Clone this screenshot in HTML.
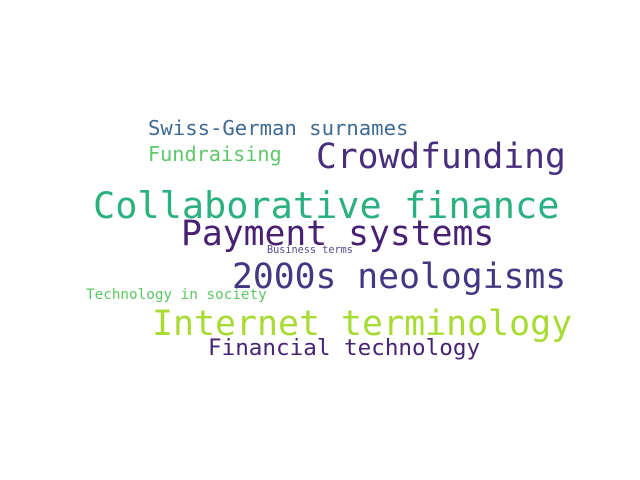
<!DOCTYPE html>
<html><head><meta charset="utf-8"><style>
html,body{margin:0;padding:0;background:#fff;width:640px;height:480px;overflow:hidden}
text{font-family:"DejaVu Sans Mono","Liberation Mono",monospace}
</style></head><body>
<svg width="640" height="480">
<text x="148" y="135" font-size="20.6" fill="#3e6a94">Swiss-German surnames</text>
<text x="148" y="161" font-size="20.2" fill="#5ec86a">Fundraising</text>
<text x="316" y="168" font-size="34.6" fill="#472f7d">Crowdfunding</text>
<text x="93" y="218" font-size="36.9" fill="#2bb07f">Collaborative finance</text>
<text x="181" y="245" font-size="34.7" fill="#482173">Payment systems</text>
<text x="267" y="253" font-size="10.2" fill="#5a4a8f">Business terms</text>
<text x="232" y="288" font-size="34.7" fill="#453781">2000s neologisms</text>
<text x="86" y="299" font-size="14.3" fill="#5cc863">Technology in society</text>
<text x="152" y="335" font-size="34.9" fill="#a8db34">Internet terminology</text>
<text x="208" y="355" font-size="22.6" fill="#482475">Financial technology</text>
</svg>
</body></html>
